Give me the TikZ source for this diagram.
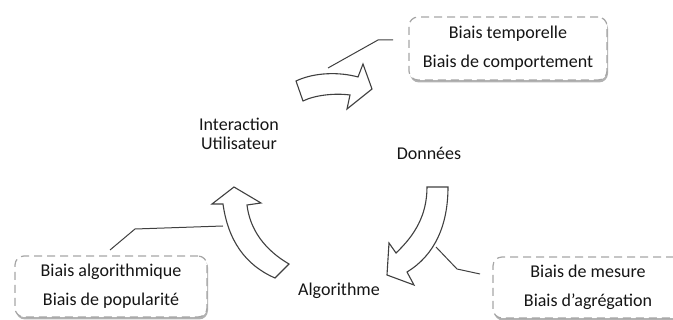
\documentclass[tikz,border=0pt]{standalone}
\usepackage{fontspec}
\setmainfont{Carlito}
\usetikzlibrary{shadows}
\definecolor{txtgray}{HTML}{151515}
\definecolor{linegray}{HTML}{404040}
\definecolor{dashgray}{HTML}{A6A6A6}
\tikzset{
  biasbox/.style={draw=dashgray, line width=1.2pt, dash pattern=on 8pt off 5pt, rounded corners=9pt,
    fill=white, align=center, text=txtgray, inner sep=0pt,
    font=\fontsize{18}{29}\selectfont,
    drop shadow={shadow xshift=1pt, shadow yshift=-2.5pt, opacity=0.3, fill=black}},
  steplabel/.style={align=center, text=txtgray, inner sep=0pt, font=\fontsize{18}{18.5}\selectfont},
  bigarrow/.style={draw=linegray, line width=1.1pt, fill=white, line join=miter},
  leader/.style={draw=linegray, line width=1pt}
}

\begin{document}
\begin{tikzpicture}[x=1pt,y=-1pt]
			%%%%% START %%%%%
			\useasboundingbox (0,0) rectangle (673,320);
			\clip (0,0) rectangle (673,320);
			
			% bias boxes
			\node[biasbox, minimum width=198pt, minimum height=63pt] (timebox) at (508,48.5) {Biais temporelle\\Biais de comportement};
			\node[biasbox, minimum width=192pt, minimum height=61pt] (algobox) at (111,286.5) {Biais algorithmique\\Biais de popularité};
			\node[biasbox, minimum width=190pt, minimum height=61pt] (databox) at (588,287.5) {Biais de mesure\\Biais d’agrégation};
			
			% cycle labels
			\node[steplabel] (user) at (239,134) {Interaction\\Utilisateur};
			\node[steplabel] (data) at (429,153) {Données};
			\node[steplabel] (algo) at (339,291) {Algorithme};
			
			% interaction -> donnees
			\draw[bigarrow] (296,81) .. controls (315,72) and (340,72) .. (358,77)
			  -- (363,64) -- (372,89) -- (347,109) -- (350,95)
			  .. controls (335,93) and (315,95) .. (303,101) -- cycle;
			
			% donnees -> algorithme
			\draw[bigarrow] (427,187) -- (448,187)
			  .. controls (448,225) and (435,255) .. (407,272)
			  -- (414,285) -- (387,275) -- (389,243) -- (396,253)
			  .. controls (415,235) and (427,215) .. (427,187) -- cycle;
			
			% algorithme -> interaction
			\draw[bigarrow] (275,278) -- (289,264)
			  .. controls (265,250) and (250,230) .. (247,205)
			  -- (261,203) -- (234,187) -- (212,204) -- (223,204)
			  .. controls (228,240) and (245,265) .. (275,278) -- cycle;
			
			% leader lines
			\coordinate (timeA) at (328,68);
			\coordinate (timeB) at (378,40);
			\coordinate (timeC) at (393,40);
			\draw[leader] (timeA) -- (timeB) -- (timeC);
			
			\coordinate (algoA) at (110,250);
			\coordinate (algoB) at (135,229);
			\coordinate (algoC) at (223,226);
			\draw[leader] (algoA) -- (algoB) -- (algoC);
			
			\coordinate (dataA) at (436,247);
			\coordinate (dataB) at (457,269);
			\coordinate (dataC) at (480,274);
			\draw[leader] (dataA) -- (dataB) -- (dataC);
			%%%%% END %%%%%
\end{tikzpicture}
\end{document}
